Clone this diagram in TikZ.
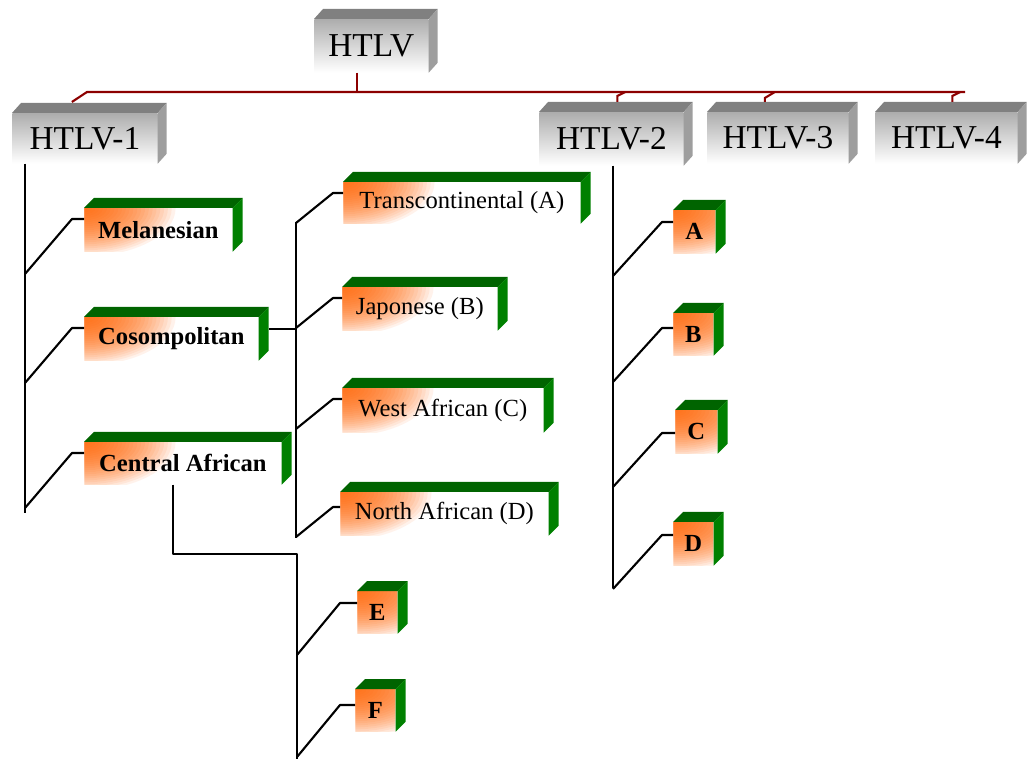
\documentclass[tikz,border=0pt]{standalone}
\usepackage{fontspec}
\setmainfont{Liberation Serif}
\usepackage{tikz}

\definecolor{orangeC}{RGB}{255,100,0}
\definecolor{topgreen}{RGB}{0,100,0}
\definecolor{sidegreen}{RGB}{0,128,0}
\definecolor{busred}{RGB}{140,0,0}

\tikzset{
  boxsize/.style 2 args={minimum width=#1*0.02cm, minimum height=#2*0.02cm},
  greybox/.style={anchor=north west, inner sep=0pt, top color=black!32, bottom color=white,
    font=\fontsize{19}{22}\selectfont},
  greenbox/.style={anchor=north west, inner sep=0pt, fill=white,
    font=\fontsize{14}{16}\selectfont,
    path picture={\foreach \r in {0.04,0.08,...,1.0}
      \fill[orangeC, opacity=0.08] (path picture bounding box.north west)
        ellipse ({1.9cm*\r} and {1.0cm*\r});}},
  conn/.style={line width=1.2pt, line join=round},
  busline/.style={busred, line width=1.2pt}
}

\begin{document}
\begin{tikzpicture}[x=0.02cm, y=-0.02cm]
\useasboundingbox (0,0) rectangle (1027,759);

% Virus types
\node[greybox, boxsize={114}{53}] (htlv) at (314,19) {HTLV};
\node[greybox, boxsize={145}{50}] (htlv1) at (12,113) {HTLV-1};
\node[greybox, boxsize={144}{53}] (htlv2) at (539,112) {HTLV-2};
\node[greybox, boxsize={141}{51}] (htlv3) at (707,112) {HTLV-3};
\node[greybox, boxsize={142}{51}] (htlv4) at (875,112) {HTLV-4};

% HTLV-1 subtypes
\node[greenbox, boxsize={148}{43}] (melan) at (84,208) {\textbf{Melanesian}};
\node[greenbox, boxsize={174}{43}] (cosmo) at (84,317) {\textbf{Cosompolitan}};
\node[greenbox, boxsize={197}{42}] (central) at (84,442) {\textbf{Central African}};

% Cosompolitan subgroups
\node[greenbox, boxsize={237}{41}] (transA) at (343,182) {Transcontinental (A)};
\node[greenbox, boxsize={155}{43}] (japB) at (342,287) {Japonese (B)};
\node[greenbox, boxsize={201}{44}] (westC) at (342,388) {West African (C)};
\node[greenbox, boxsize={208}{43}] (northD) at (340,492) {North African (D)};

% Central African subgroups
\node[greenbox, boxsize={40}{42}] (subE) at (357,591) {\textbf{E}};
\node[greenbox, boxsize={40}{42}] (subF) at (355,689) {\textbf{F}};

% HTLV-2 subtypes
\node[greenbox, boxsize={42}{43}] (subA) at (673,210) {\textbf{A}};
\node[greenbox, boxsize={40}{42}] (subB) at (673,313) {\textbf{B}};
\node[greenbox, boxsize={42}{43}] (subC) at (675,410) {\textbf{C}};
\node[greenbox, boxsize={40}{43}] (subD) at (673,522) {\textbf{D}};

% 3D faces
\foreach \n in {htlv,htlv1,htlv2,htlv3,htlv4}{
  \fill[gray] (\n.north west) -- ++(9,-10) -- ([shift={(9,-10)}]\n.north east) -- (\n.north east) -- cycle;
  \fill[black!38] (\n.north east) -- ++(9,-10) -- ([shift={(9,-10)}]\n.south east) -- (\n.south east) -- cycle;
}
\foreach \n in {melan,cosmo,central,transA,japB,westC,northD,subE,subF,subA,subB,subC,subD}{
  \fill[topgreen] (\n.north west) -- ++(10,-10) -- ([shift={(10,-10)}]\n.north east) -- (\n.north east) -- cycle;
  \fill[sidegreen] (\n.north east) -- ++(10,-10) -- ([shift={(10,-10)}]\n.south east) -- (\n.south east) -- cycle;
}

% Red bus
\coordinate (busL) at (87,92);
\coordinate (busR) at (965,92);
\draw[busline] ([shift={(-14,0)}]htlv.south) -- ++(0,20);
\draw[busline] ([shift={(-13,-11)}]htlv1.north) -- (busL) -- (busR);
\draw[busline] ([shift={(6,-10)}]htlv2.north) -- ++(0,-6) -- ++(8,-4);
\draw[busline] ([shift={(-13,-10)}]htlv3.north) -- ++(0,-4) -- ++(10,-6);
\draw[busline] ([shift={(6,-10)}]htlv4.north) -- ++(0,-6) -- ++(8,-4);

% HTLV-1 tree
\draw[conn] ([shift={(13,0)}]htlv1.south west) -- ++(0,349);
\foreach \n in {melan,cosmo,central}
  \draw[conn] ([shift={(0,11)}]\n.north west) -- ++(-12,0) -- ++(-47,55);

% Cosompolitan tree
\draw[conn] ([shift={(10,-10)}]cosmo.east) -- ++(28,0);
\draw[conn] (296,222) -- (296,538);
\foreach \n/\dy/\dx in {transA/11/10, japB/11/9, westC/11/9, northD/15/7}
  \draw[conn] ([shift={(0,\dy)}]\n.north west) -- ++(-\dx,0) -- ++(-37,30);

% Central African tree
\draw[conn] ([shift={(-10,0)}]central.south) -- ++(0,69) -| (297,759);
\foreach \n/\dy/\dx in {subE/12/17, subF/16/15}
  \draw[conn] ([shift={(0,\dy)}]\n.north west) -- ++(-\dx,0) -- ++(-43,52);

% HTLV-2 tree
\draw[conn] ([shift={(2,0)}]htlv2.south) -- ++(0,422);
\foreach \n/\dy/\dx in {subA/12/11, subB/15/11, subC/23/13, subD/13/11}
  \draw[conn] ([shift={(0,\dy)}]\n.north west) -- ++(-\dx,0) -- ++(-49,54);

\end{tikzpicture}
\end{document}
